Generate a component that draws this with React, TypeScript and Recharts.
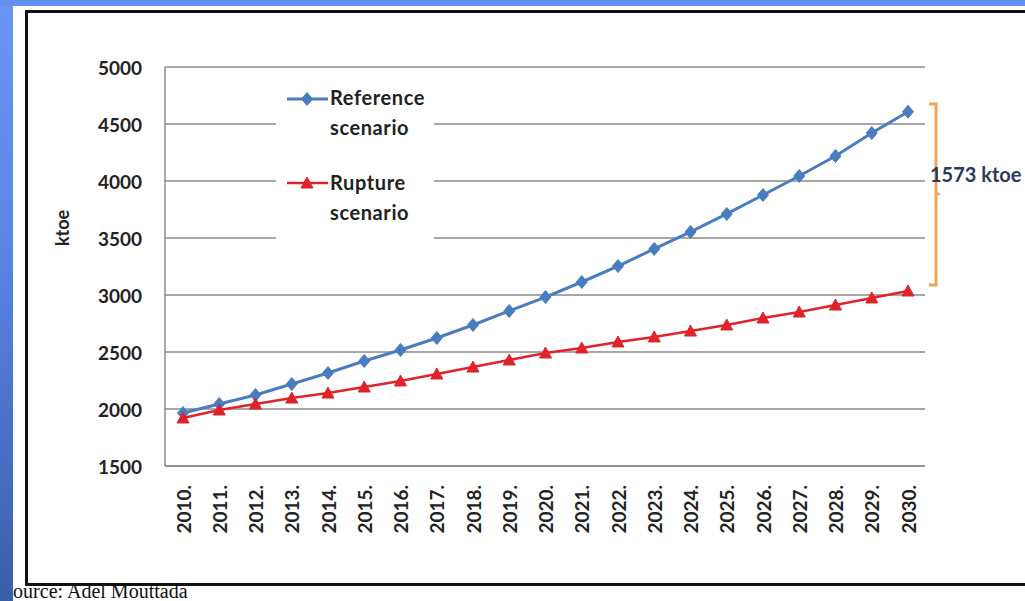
import React from "react";
import { LineChart, Line, XAxis, YAxis, CartesianGrid } from "recharts";

const years = [
  "2010.", "2011.", "2012.", "2013.", "2014.", "2015.", "2016.", "2017.", "2018.", "2019.", "2020.",
  "2021.", "2022.", "2023.", "2024.", "2025.", "2026.", "2027.", "2028.", "2029.", "2030.",
];
const referenceScenario = [
  1965, 2044, 2123, 2219, 2316, 2421, 2518, 2623, 2737, 2860, 2982,
  3114, 3254, 3404, 3553, 3711, 3877, 4044, 4219, 4421, 4608,
];
const ruptureScenario = [
  1921, 1991, 2044, 2096, 2140, 2193, 2246, 2307, 2368, 2430, 2491,
  2535, 2588, 2632, 2684, 2737, 2798, 2851, 2912, 2974, 3035,
];
const yTicks = [1500, 2000, 2500, 3000, 3500, 4000, 4500, 5000];

const data = years.map((year, i) => ({
  year,
  reference: referenceScenario[i],
  rupture: ruptureScenario[i],
}));

const FONT = "Lato, 'Open Sans', sans-serif";
const BLUE = "#4a7cc0";
const RED = "#e0232b";
const GRID = "#8a8a8a";

const Diamond = ({ cx, cy }: any) => (
  <polygon
    points={`${cx},${cy - 6.5} ${cx + 5.5},${cy} ${cx},${cy + 6.5} ${cx - 5.5},${cy}`}
    fill={BLUE}
    stroke={BLUE}
  />
);

const Triangle = ({ cx, cy }: any) => (
  <polygon
    points={`${cx},${cy - 6} ${cx + 6},${cy + 5} ${cx - 6},${cy + 5}`}
    fill={RED}
    stroke={RED}
  />
);

const YTick = ({ x, y, payload }: any) => (
  <text x={x} y={y} textAnchor="end" dominantBaseline="central" fontFamily={FONT} fontWeight={700} fontSize={19} fill="#222">
    {payload.value}
  </text>
);

const XTick = ({ x, y, payload }: any) => (
  <text
    x={x}
    y={y}
    transform={`rotate(-90 ${x} ${y})`}
    textAnchor="end"
    dominantBaseline="central"
    fontFamily={FONT}
    fontWeight={700}
    fontSize={19}
    fill="#222"
  >
    {payload.value}
  </text>
);

export default function App() {
  return (
    <div style={{ position: "fixed", left: 0, top: 0, width: 1025, height: 601, background: "#6290f0", overflow: "hidden" }}>
      <div style={{ position: "absolute", left: 13, top: 6, width: 1012, height: 595, background: "#fff" }} />
      <div style={{ position: "absolute", left: 25, top: 10, width: 1010, height: 570, border: "3px solid #111" }} />
      <div style={{ position: "absolute", left: 0, top: 0 }}>
        <LineChart width={1025} height={601} data={data} margin={{ top: 67, right: 100, left: 105, bottom: 65 }}>
          <CartesianGrid vertical={false} stroke={GRID} strokeWidth={1.5} />
          <XAxis
            dataKey="year"
            interval={0}
            height={70}
            padding={{ left: 18, right: 17 }}
            tickLine={false}
            tickSize={0}
            tickMargin={19}
            axisLine={{ stroke: GRID, strokeWidth: 1.5 }}
            tick={<XTick />}
          />
          <YAxis
            domain={[1500, 5000]}
            ticks={yTicks}
            width={60}
            tickLine={false}
            tickSize={0}
            tickMargin={23}
            axisLine={{ stroke: GRID, strokeWidth: 1.5 }}
            tick={<YTick />}
          />
          <Line type="linear" dataKey="reference" stroke={BLUE} strokeWidth={3} dot={<Diamond />} activeDot={false} isAnimationActive={false} />
          <Line type="linear" dataKey="rupture" stroke={RED} strokeWidth={2.5} dot={<Triangle />} activeDot={false} isAnimationActive={false} />
        </LineChart>
      </div>
      <div
        style={{
          position: "absolute", left: 62, top: 228, transform: "translate(-50%, -50%) rotate(-90deg)",
          fontFamily: FONT, fontWeight: 700, fontSize: 18, color: "#222",
        }}
      >
        ktoe
      </div>
      <div style={{ position: "absolute", left: 276, top: 84, width: 158, height: 158, background: "#fff" }}>
        <svg width={158} height={158} style={{ position: "absolute", left: 0, top: 0 }}>
          <line x1={11} y1={15} x2={52} y2={15} stroke={BLUE} strokeWidth={3} />
          <Diamond cx={31} cy={15} />
          <line x1={11} y1={99} x2={52} y2={99} stroke={RED} strokeWidth={2.5} />
          <Triangle cx={31} cy={99} />
        </svg>
        <div style={{ position: "absolute", left: 54, top: -2, fontFamily: FONT, fontWeight: 700, fontSize: 20, letterSpacing: 0.6, lineHeight: "30px", color: "#222" }}>
          Reference<br />scenario
        </div>
        <div style={{ position: "absolute", left: 54, top: 83, fontFamily: FONT, fontWeight: 700, fontSize: 20, letterSpacing: 0.6, lineHeight: "30px", color: "#222" }}>
          Rupture<br />scenario
        </div>
      </div>
      <svg width={1025} height={601} style={{ position: "absolute", left: 0, top: 0, pointerEvents: "none" }}>
        <path d="M929 104 L936 104 L936 285 L929 285" fill="none" stroke="#f2a358" strokeWidth={3} />
        <path d="M936 192 L940 195" fill="none" stroke="#f2a358" strokeWidth={2} />
      </svg>
      <div style={{ position: "absolute", left: 930, top: 162, fontFamily: FONT, fontWeight: 700, fontSize: 20, color: "#2c3a5c" }}>
        1573 ktoe
      </div>
      <div style={{ position: "absolute", left: 2, top: 580, fontFamily: "'Liberation Serif', serif", fontSize: 20, color: "#111", whiteSpace: "nowrap" }}>
        Source: Adel Mouttada
      </div>
      <div style={{ position: "absolute", left: 0, top: 0, width: 13, height: 601, background: "linear-gradient(#6a95f4, #5a86e6 40%, #3a5ea8)" }} />
      <div style={{ position: "absolute", left: 0, top: 0, width: 1025, height: 6, background: "#6290f0" }} />
    </div>
  );
}
